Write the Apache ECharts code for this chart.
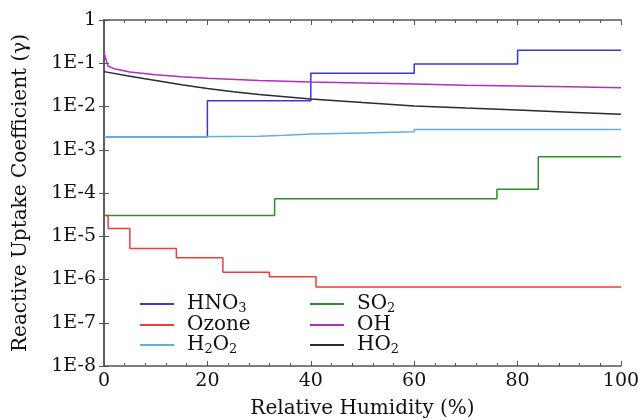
<!DOCTYPE html>
<html>
<head>
<meta charset="utf-8">
<script src="https://cdn.jsdelivr.net/npm/echarts@6/dist/echarts.min.js"></script>
<style>
  html, body { margin: 0; padding: 0; background: #fff; }
  #chart { width: 640px; height: 420px; }
</style>
</head>
<body>
<div id="chart"></div>
<script>
// step series: [relative humidity, gamma] - value holds until next point
var hno3 = [[0, 2.0e-3], [20, 1.36e-2], [40, 5.9e-2], [60, 9.6e-2], [80, 0.2], [100, 0.2]];
var ozone = [[0, 3.0e-5], [0.8, 1.52e-5], [5, 5.2e-6], [14, 3.2e-6], [23, 1.47e-6], [32, 1.16e-6], [41, 6.7e-7], [100, 6.7e-7]];
var h2o2 = [[0, 2.0e-3], [15, 2.05e-3], [30, 2.15e-3], [35, 2.3e-3], [40, 2.45e-3], [50, 2.6e-3], [60, 2.95e-3], [100, 2.95e-3]];
var so2 = [[0, 3.0e-5], [33, 7.4e-5], [76, 1.22e-4], [84, 6.9e-4], [100, 6.9e-4]];
// smooth curves
var oh = [[0, 0.18], [0.4, 0.12], [0.8, 0.085], [2, 0.075], [5, 0.063], [10, 0.054], [15, 0.049], [20, 0.045], [30, 0.040], [40, 0.037], [50, 0.035], [60, 0.033], [70, 0.031], [80, 0.0298], [90, 0.0285], [100, 0.027]];
var ho2 = [[0, 0.064], [5, 0.05], [10, 0.04], [15, 0.032], [20, 0.026], [25, 0.022], [30, 0.019], [40, 0.015], [50, 0.0124], [60, 0.0103], [70, 0.0092], [80, 0.0083], [90, 0.0074], [100, 0.0066]];

var legendLabels = {
    'HNO3': '{m|HNO}{s|3}',
    'Ozone': '{m|Ozone}',
    'H2O2': '{m|H}{s|2}{m|O}{s|2}',
    'SO2': '{m|SO}{s|2}',
    'OH': '{m|OH}',
    'HO2': '{m|HO}{s|2}'
};

var font = 'DejaVu Serif';
var axisColor = '#555';

var chart = echarts.init(document.getElementById('chart'));

function lineSeries(name, data, color, step) {
    var s = {
        name: name,
        type: 'line',
        data: data,
        showSymbol: false,
        symbol: 'none',
        smooth: false,
        lineStyle: { color: color, width: 1.5 },
        itemStyle: { color: color },
        animation: false
    };
    if (step) s.step = 'end';
    return s;
}

var legendText = {
    fontFamily: font,
    color: '#111',
    padding: [0, 0, 0, 8],
    rich: {
        m: { fontFamily: font, fontSize: 20, color: '#111', lineHeight: 22 },
        s: { fontFamily: font, fontSize: 13, color: '#111', lineHeight: 8, verticalAlign: 'bottom' }
    }
};

option = {
    backgroundColor: '#fff',
    grid: { left: 104, right: 19, top: 20, bottom: 54, outerBoundsMode: 'none', containLabel: false },
    legend: [
        {
            data: ['HNO3', 'Ozone', 'H2O2'],
            orient: 'vertical',
            left: 135,
            top: 289,
            itemWidth: 34,
            itemHeight: 2,
            itemGap: 0,
            icon: 'rect',
            formatter: function (n) { return legendLabels[n]; },
            textStyle: legendText
        },
        {
            data: ['SO2', 'OH', 'HO2'],
            orient: 'vertical',
            left: 305,
            top: 289,
            itemWidth: 34,
            itemHeight: 2,
            itemGap: 0,
            icon: 'rect',
            formatter: function (n) { return legendLabels[n]; },
            textStyle: legendText
        }
    ],
    xAxis: [
        {
            type: 'value',
            min: 0,
            max: 100,
            interval: 20,
            name: 'Relative Humidity (%)',
            nameLocation: 'middle',
            nameGap: 33,
            nameTextStyle: { fontFamily: font, fontSize: 20, color: '#111' },
            axisLine: { lineStyle: { color: axisColor, width: 1.5 } },
            axisTick: { inside: true, length: 5, lineStyle: { color: axisColor } },
            minorTick: { show: true, splitNumber: 5, length: 3, lineStyle: { color: axisColor } },
            axisLabel: { fontFamily: font, fontSize: 19, color: '#111', margin: 6 },
            splitLine: { show: false }
        },
        {
            type: 'value',
            position: 'top',
            min: 0,
            max: 100,
            interval: 20,
            axisLine: { show: true, lineStyle: { color: axisColor, width: 1.5 } },
            axisTick: { show: true, inside: true, length: 5, lineStyle: { color: axisColor } },
            minorTick: { show: true, splitNumber: 5, length: 3, lineStyle: { color: axisColor } },
            axisLabel: { show: false },
            splitLine: { show: false }
        }
    ],
    yAxis: [
        {
            type: 'log',
            logBase: 10,
            min: 1e-8,
            max: 1,
            splitNumber: 8,
            name: 'Reactive Uptake Coefficient (\u03b3)',
            nameLocation: 'middle',
            nameGap: 73,
            nameTextStyle: { fontFamily: font, fontSize: 20, color: '#111' },
            axisLine: { show: true, lineStyle: { color: axisColor, width: 1.5 } },
            axisTick: { show: true, inside: true, length: 5, lineStyle: { color: axisColor } },
            axisLabel: {
                fontFamily: font, fontSize: 19, color: '#111', margin: 8,
                formatter: function (v) {
                    var e = Math.round(Math.log10(v));
                    return e === 0 ? '1' : '1E' + e;
                }
            },
            splitLine: { show: false }
        },
        {
            type: 'log',
            logBase: 10,
            min: 1e-8,
            max: 1,
            splitNumber: 8,
            position: 'right',
            axisLine: { show: true, lineStyle: { color: axisColor, width: 1.5 } },
            axisTick: { show: true, inside: true, length: 5, lineStyle: { color: axisColor } },
            axisLabel: { show: false },
            splitLine: { show: false }
        }
    ],
    series: [
        lineSeries('HNO3', hno3, '#3636e0', true),
        lineSeries('Ozone', ozone, '#ef3b3b', true),
        lineSeries('H2O2', h2o2, '#5fb0dc', true),
        lineSeries('SO2', so2, '#2e8b2e', true),
        lineSeries('OH', oh, '#b02ec0', false),
        lineSeries('HO2', ho2, '#2b2b2b', false)
    ]
};

chart.setOption(option);
</script>
</body>
</html>
